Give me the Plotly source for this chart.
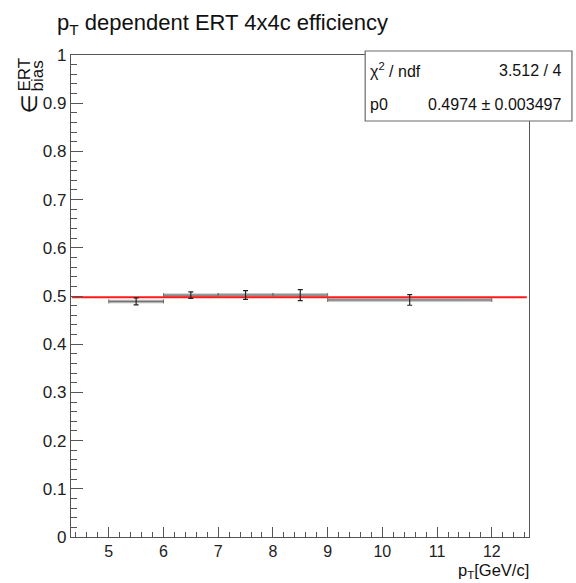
import plotly.graph_objects as go

# ---- data ----
bin_lo = [5.0, 6.0, 7.0, 8.0, 9.0]
bin_hi = [6.0, 7.0, 8.0, 9.0, 12.0]
x_centers = [5.5, 6.5, 7.5, 8.5, 10.5]
eff_vals = [0.4887, 0.5018, 0.5020, 0.5020, 0.4918]
eff_errs = [0.0073, 0.0066, 0.0090, 0.0114, 0.0110]
fit_p0 = 0.4974
fit_range = [4.33, 12.64]
x_range = [4.31, 12.68]
y_range = [0.0, 1.0]

W, H = 576, 583
L, R, T, B = 70.5, 529, 55, 537

half_w = [(h - l) / 2 for l, h in zip(bin_lo, bin_hi)]

fig = go.Figure()

# grey horizontal bin bands
band_x, band_y = [], []
for l, h, v in zip(bin_lo, bin_hi, eff_vals):
    band_x += [l, h, None]
    band_y += [v, v, None]
fig.add_trace(go.Scatter(x=band_x, y=band_y, mode="lines",
                         line=dict(color="#b4b4b4", width=3.5),
                         hoverinfo="skip", showlegend=False))

# fit line
fig.add_trace(go.Scatter(x=fit_range, y=[fit_p0, fit_p0], mode="lines",
                         line=dict(color="#ff1a1a", width=2),
                         showlegend=False))

# points with errors
fig.add_trace(go.Scatter(
    x=x_centers, y=eff_vals, mode="markers",
    marker=dict(size=1, color="black"),
    error_x=dict(type="data", array=half_w, color="#707070", thickness=1, width=2),
    error_y=dict(type="data", array=eff_errs, color="#222222", thickness=1.2, width=2.5),
    showlegend=False))

px_to_xp = lambda px: (px - L) / (R - L)
py_to_yp = lambda py: (B - py) / (B - T)

axis_common = dict(
    showgrid=False, zeroline=False, showline=True, linecolor="#555555", linewidth=1.2,
    mirror=True, ticks="inside", tickcolor="#555555", tickwidth=1,
    tickfont=dict(family="Liberation Sans, Arial", size=17, color="#222222"),
)

fig.update_xaxes(range=x_range, tick0=5, dtick=1, ticklen=10,
                 minor=dict(dtick=0.2, tick0=5, ticklen=5, ticks="inside", tickcolor="#555555"),
                 **axis_common)
fig.update_yaxes(range=y_range, tick0=0, dtick=0.1, ticklen=12,
                 tickvals=[0, 0.1, 0.2, 0.3, 0.4, 0.5, 0.6, 0.7, 0.8, 0.9, 1.0],
                 ticktext=["0", "0.1", "0.2", "0.3", "0.4", "0.5", "0.6", "0.7", "0.8", "0.9", "1"],
                 minor=dict(dtick=0.02, tick0=0, ticklen=6, ticks="inside", tickcolor="#555555"),
                 **axis_common)
fig.update_xaxes(tickfont=dict(size=16))

font = "Liberation Sans, Arial, sans-serif"
annotations = [
    # title
    dict(text="p<sub>T</sub> dependent ERT 4x4c efficiency", xref="paper", yref="paper",
         x=px_to_xp(54), y=py_to_yp(8), xanchor="left", yanchor="top", showarrow=False,
         font=dict(family=font, size=22, color="#111")),
    # x axis title
    dict(text="p<sub>T</sub>[GeV/c]", xref="paper", yref="paper",
         x=px_to_xp(531), y=py_to_yp(559), xanchor="right", yanchor="top", showarrow=False,
         font=dict(family=font, size=16.5, color="#111")),
    # y axis title pieces
    dict(text="∈", xref="paper", yref="paper", textangle=-90,
         x=px_to_xp(29), y=py_to_yp(104), xanchor="center", yanchor="middle", showarrow=False,
         font=dict(family="DejaVu Sans, sans-serif", size=22, color="#111")),
    dict(text="ERT", xref="paper", yref="paper", textangle=-90,
         x=px_to_xp(24), y=py_to_yp(75), xanchor="center", yanchor="middle", showarrow=False,
         font=dict(family=font, size=17, color="#111")),
    dict(text="bias", xref="paper", yref="paper", textangle=-90,
         x=px_to_xp(37), y=py_to_yp(76), xanchor="center", yanchor="middle", showarrow=False,
         font=dict(family=font, size=17, color="#111")),
    # stat box text
    dict(text="χ<sup>2</sup> / ndf", xref="paper", yref="paper",
         x=px_to_xp(368), y=py_to_yp(70), xanchor="left", yanchor="middle", showarrow=False,
         font=dict(family=font, size=16, color="#111")),
    dict(text="3.512 / 4", xref="paper", yref="paper",
         x=px_to_xp(563), y=py_to_yp(70), xanchor="right", yanchor="middle", showarrow=False,
         font=dict(family=font, size=16, color="#111")),
    dict(text="p0", xref="paper", yref="paper",
         x=px_to_xp(368), y=py_to_yp(105), xanchor="left", yanchor="middle", showarrow=False,
         font=dict(family=font, size=16, color="#111")),
    dict(text=f"{fit_p0} ± 0.003497", xref="paper", yref="paper",
         x=px_to_xp(563), y=py_to_yp(105), xanchor="right", yanchor="middle", showarrow=False,
         font=dict(family=font, size=16, color="#111")),
]

shapes = [
    dict(type="rect", xref="paper", yref="paper", layer="above",
         x0=px_to_xp(365), x1=px_to_xp(572), y0=py_to_yp(121), y1=py_to_yp(51),
         line=dict(color="#6a6a6a", width=1.2), fillcolor="white"),
]

fig.update_layout(
    width=W, height=H,
    margin=dict(l=L, r=W - R, t=T, b=H - B),
    paper_bgcolor="white", plot_bgcolor="white",
    annotations=annotations, shapes=shapes,
    font=dict(family=font),
)

fig.write_html("out.html")
